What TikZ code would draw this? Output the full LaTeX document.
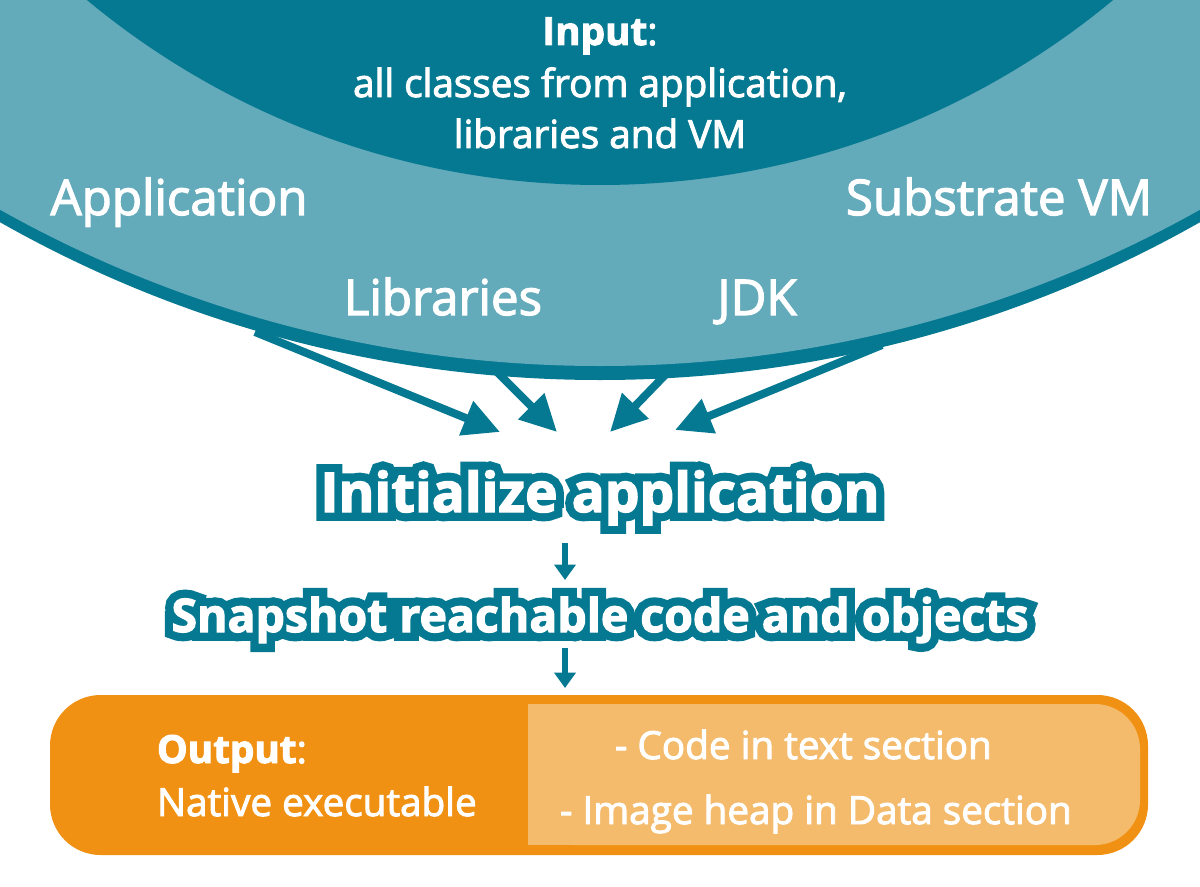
\documentclass[tikz,border=0pt]{standalone}
\usepackage{fontspec}
\setmainfont{Open Sans}[FakeBold=2.5]
\newfontfamily\initglowface{Open Sans Bold}[FakeBold=32]
\newfontfamily\snapglowface{Open Sans Bold}[FakeBold=38]
\usetikzlibrary{arrows.meta}
\definecolor{petrol}{RGB}{5,121,145}
\definecolor{lightpetrol}{RGB}{99,170,187}
\definecolor{amber}{RGB}{241,145,19}
\definecolor{lightamber}{RGB}{244,187,108}

\begin{document}
\begin{tikzpicture}[x=0.025cm,y=-0.025cm,
  intext/.style={white,anchor=base,font=\fontsize{27.5}{33}\selectfont},
  parttext/.style={white,anchor=base,font=\fontsize{35}{40}\selectfont},
  phase/.style={white,anchor=base,font=\bfseries\fontsize{#1}{50}\selectfont},
  glow/.style={petrol,anchor=base},
  boxtext/.style={white,anchor=base west,font=\fontsize{27.5}{33}\selectfont},
  feed/.style={petrol,line width=5.7pt,-{Triangle[length=26pt,width=25pt]}},
  onestep/.style={petrol,line width=4.3pt,-{Triangle[length=11pt,width=15pt]}}]
 \useasboundingbox (0,0) rectangle (1200,886);
 % input circles
 \begin{scope}
   \clip (0,0) rectangle (1200,886);
   \fill[petrol] (600,-838) circle (1218);
   \fill[lightpetrol] (600,-862) circle (1228);
   \fill[petrol] (600,-619) circle (804);
 \end{scope}
 \node[intext] (input) at (600,45) {\textbf{Input}:};
 \node[intext] (classes) at (600,97) {all classes from application,};
 \node[intext] (libvm) at (600,148) {libraries and VM};
 \node[parttext] (app) at (179,215) {Application};
 \node[parttext] (svm) at (999,215) {Substrate VM};
 \node[parttext] (libs) at (443,315) {Libraries};
 \node[parttext] (jdk) at (757,315) {JDK};
 % arrows into the first phase
 \coordinate (appout) at (255,332);
 \coordinate (libout) at (497,372);
 \coordinate (jdkout) at (668,372);
 \coordinate (svmout) at (882,345);
 \coordinate (appin) at (500,432);
 \coordinate (libin) at (557,432);
 \coordinate (jdkin) at (610,432);
 \coordinate (svmin) at (675,430);
 \draw[feed] (appout) -- (appin);
 \draw[feed] (libout) -- (libin);
 \draw[feed] (jdkout) -- (jdkin);
 \draw[feed] (svmout) -- (svmin);
 % phases with outlined text
 \node[glow,font=\initglowface\fontsize{39}{50}\selectfont] (initglow) at (600,512) {Initialize application};
 \node[glow,font=\snapglowface\fontsize{33}{50}\selectfont] (snapglow) at (600,632) {Snapshot reachable code and objects};
 \node[phase=39] (init) at (600,512) {Initialize application};
 \node[phase=33] (snap) at (600,632) {Snapshot reachable code and objects};
 \coordinate (inito) at (565,543);
 \coordinate (snapi) at (565,580);
 \coordinate (snapo) at (565,648);
 \coordinate (outi) at (565,688);
 \draw[onestep] (inito) -- (snapi);
 \draw[onestep] (snapo) -- (outi);
 % output
 \fill[amber,rounded corners=36pt] (50,695) rectangle (1148,855);
 \fill[lightamber,rounded corners=32pt] (528,704) rectangle (1140,845);
 \fill[lightamber] (528,704) rectangle (700,845);
 \node[boxtext] (output) at (152,763) {\textbf{Output}:};
 \node[boxtext] (native) at (152,816) {Native executable};
 \node[boxtext] (code) at (610,759) {- Code in text section};
 \node[boxtext] (heap) at (555,824) {- Image heap in Data section};
\end{tikzpicture}
\end{document}
